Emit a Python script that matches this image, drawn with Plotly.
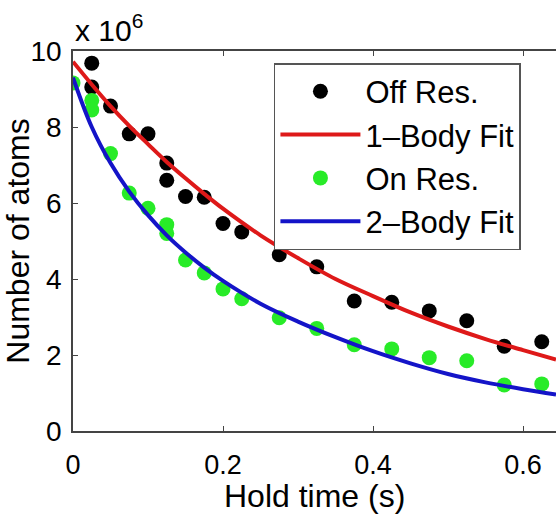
import plotly.graph_objects as go

# ---- data ----
off_t = [0.025, 0.025, 0.05, 0.075, 0.1, 0.125, 0.125, 0.15, 0.175, 0.2, 0.225,
         0.275, 0.325, 0.375, 0.425, 0.475, 0.525, 0.575, 0.625]
off_n = [9.68, 9.05, 8.55, 7.82, 7.82, 7.05, 6.6, 6.17, 6.15, 5.46, 5.24,
         4.64, 4.32, 3.42, 3.39, 3.16, 2.9, 2.23, 2.35]

on_t = [0.0, 0.025, 0.025, 0.05, 0.075, 0.1, 0.125, 0.125, 0.15, 0.175, 0.2, 0.225,
        0.275, 0.325, 0.375, 0.425, 0.475, 0.525, 0.575, 0.625]
on_n = [9.16, 8.7, 8.45, 7.3, 6.26, 5.86, 5.43, 5.2, 4.5, 4.16, 3.74, 3.48,
        2.98, 2.7, 2.27, 2.16, 1.93, 1.85, 1.21, 1.24]

fit_t = [0.0, 0.025, 0.05, 0.075, 0.1, 0.125, 0.15, 0.175, 0.2, 0.25, 0.3, 0.35,
         0.4, 0.45, 0.5, 0.55, 0.6, 0.644]
fit1_n = [9.72, 9.12, 8.55, 8.03, 7.55, 7.08, 6.65, 6.24, 5.85, 5.15, 4.55, 4.0,
          3.55, 3.12, 2.75, 2.42, 2.13, 1.88]
fit2_n = [9.3, 8.0, 7.05, 6.3, 5.68, 5.15, 4.7, 4.3, 3.95, 3.35, 2.88, 2.47,
          2.1, 1.78, 1.5, 1.28, 1.1, 0.96]

x_ticks = [0, 0.2, 0.4, 0.6]
x_tick_text = ["0", "0.2", "0.4", "0.6"]
y_ticks = [0, 2, 4, 6, 8, 10]
y_tick_text = ["0", "2", "4", "6", "8", "10"]

FONT = "Liberation Sans, Arial, sans-serif"

fig = go.Figure()
fig.add_trace(go.Scatter(x=off_t, y=off_n, mode="markers", name="Off Res.",
                         marker=dict(color="black", size=15)))
fig.add_trace(go.Scatter(x=fit_t, y=fit1_n, mode="lines", name="1\u2013Body Fit",
                         line=dict(color="rgb(222,25,25)", width=4, shape="spline")))
fig.add_trace(go.Scatter(x=on_t, y=on_n, mode="markers", name="On Res.",
                         marker=dict(color="rgb(40,235,40)", size=15)))
fig.add_trace(go.Scatter(x=fit_t, y=fit2_n, mode="lines", name="2\u2013Body Fit",
                         line=dict(color="rgb(20,20,200)", width=4, shape="spline")))

axis_common = dict(showgrid=False, zeroline=False, showline=True,
                   linecolor="#444", linewidth=1.5, ticks="inside", ticklen=5,
                   tickcolor="#444", tickwidth=1.2)

fig.update_xaxes(range=[0, 0.644], tickvals=x_ticks, ticktext=x_tick_text,
                 mirror="ticks", ticklabelstandoff=9,
                 tickfont=dict(family=FONT, size=27, color="black"), **axis_common)
fig.update_yaxes(range=[0, 10], tickvals=y_ticks, ticktext=y_tick_text,
                 ticklabelstandoff=4,
                 tickfont=dict(family=FONT, size=28, color="black"),
                 title=dict(text="Number of atoms", font=dict(family=FONT, size=32, color="black"),
                            standoff=5),
                 **axis_common)

# x-axis title (placed as text below the tick labels)
fig.add_annotation(text="Hold time (s)", xref="paper", yref="paper", x=0.5, y=-0.172,
                   xanchor="center", yanchor="middle", showarrow=False,
                   font=dict(family=FONT, size=32, color="black"))

fig.add_annotation(text="x 10<sup>6</sup>", xref="paper", yref="paper", x=0, y=1,
                   xanchor="left", yanchor="bottom", yshift=2, showarrow=False,
                   font=dict(family=FONT, size=30, color="black"))

fig.update_layout(
    width=556, height=519,
    margin=dict(l=73, r=0, t=51, b=88),
    paper_bgcolor="white", plot_bgcolor="white",
    showlegend=True,
    legend=dict(x=0.416, y=0.968, xanchor="left", yanchor="top",
                bgcolor="white", bordercolor="#555", borderwidth=1.5,
                font=dict(family=FONT, size=31, color="black"),
                itemwidth=80, tracegroupgap=0),
)

fig.write_html("out.html")
